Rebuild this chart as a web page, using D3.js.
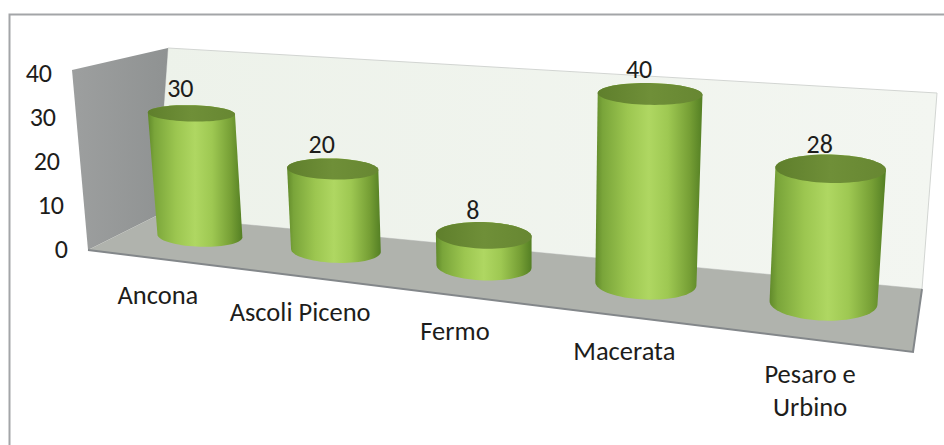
<!DOCTYPE html>
<html>
<head>
<meta charset="utf-8">
<script src="https://cdn.jsdelivr.net/npm/d3@7"></script>
<style>
  html, body { margin: 0; padding: 0; background: #fff; }
  text { font-family: Carlito, Lato, "Open Sans", sans-serif; fill: #1d1d1b; }
</style>
</head>
<body>
<div id="chart"></div>
<script>

const categories = ["Ancona", "Ascoli Piceno", "Fermo", "Macerata", "Pesaro e Urbino"]
const values = [30, 20, 8, 40, 28]
const ticks = [0, 10, 20, 30, 40]

const width = 944
const height = 445

// corners of the 3d box on screen: front-left, front-right, back-right, back-left
const floorCorners = [[88, 250], [913, 352], [922, 289], [156, 216]]
const topCorners = [[72, 70], [931, 137], [937, 93], [168, 48]]
// plane the cylinders stand in, the picture leans them differently from the walls
const barBase = [[136, 229], [919, 313]]
const barTop = [[122, 64], [933, 110]]

const x = d3.scaleBand().domain(categories).range([0, 1])
// slight pow because the picture squeezes the low values
const y = d3.scalePow().exponent(1.1).domain([0, 40]).range([0, 1])
// the axis labels themselves stay evenly spaced
const yTick = d3.scaleLinear().domain([0, 40]).range([0, 1])

function lerp(a, b, t) {
	return [a[0] + (b[0] - a[0]) * t, a[1] + (b[1] - a[1]) * t]
}

// perspective along the long axis
function warp(u) {
	return 0.8 * u / (1 - 0.2 * u)
}

function corner(i, v) {
	return lerp(floorCorners[i], topCorners[i], y(v))
}

function barPoint(u, v) {
	const t = warp(u)
	return lerp(lerp(barBase[0], barBase[1], t), lerp(barTop[0], barTop[1], t), y(v))
}

const svg = d3.select("#chart").append("svg")
	.attr("width", width)
	.attr("height", height)
	.style("display", "block")

const defs = svg.append("defs")

function gradient(id, stops) {
	const g = defs.append("linearGradient").attr("id", id)
		.attr("x1", 0).attr("y1", 0).attr("x2", 1).attr("y2", 0)
	stops.forEach(function(s) {
		g.append("stop").attr("offset", s[0]).attr("stop-color", s[1])
	})
}

gradient("body", [[0, "#618a2b"], [0.07, "#7aa53a"], [0.3, "#9cc650"], [0.5, "#afd762"], [0.68, "#9ec852"], [0.88, "#769f35"], [1, "#547f24"]])
gradient("cap", [[0, "#5f7f2c"], [0.5, "#6f8f38"], [1, "#678732"]])
gradient("wall", [[0, "#9d9f9f"], [1, "#8f9292"]])
gradient("back", [[0, "#edf2ea"], [1, "#f3f6f1"]])

const line = d3.line()

// frame, only top and left show in the picture
svg.append("path")
	.attr("d", line([[9.5, height], [9.5, 14.5], [width, 14.5]]))
	.attr("fill", "none")
	.attr("stroke", "#a3a5a8")
	.attr("stroke-width", 2)

// walls
svg.append("path")
	.attr("d", line([corner(3, 40), corner(2, 40), corner(2, 0), corner(3, 0)]) + "Z")
	.attr("fill", "url(#back)")
	.attr("stroke", "#d2d5d2")
	.attr("stroke-width", 1)

svg.append("path")
	.attr("d", line([corner(0, 40), corner(3, 40), corner(3, 0), corner(0, 0)]) + "Z")
	.attr("fill", "url(#wall)")

svg.append("path")
	.attr("d", line([corner(0, 0), corner(3, 0), corner(2, 0), corner(1, 0)]) + "Z")
	.attr("fill", "#b0b3ad")

svg.append("path")
	.attr("d", line([corner(0, 0), corner(1, 0), corner(2, 0)]))
	.attr("fill", "none")
	.attr("stroke", "#83878a")
	.attr("stroke-width", 2)

// cylinders
const radiusW = 0.3
const tilt = 0.3
const angles = d3.range(0, 2 * Math.PI, Math.PI / 36)

function ring(u, v) {
	const radiusU = 0.066 - 0.009 * u
	const c = barPoint(u, v)
	const a = barPoint(u - radiusU, v), b = barPoint(u + radiusU, v)
	const t = warp(u)
	const front = lerp(corner(0, v), corner(1, v), t)
	const back = lerp(corner(3, v), corner(2, v), t)
	const ry = radiusW * (front[1] - back[1])
	return angles.map(function(p) {
		return [c[0] + (b[0] - a[0]) / 2 * Math.cos(p),
			c[1] + tilt * (b[1] - a[1]) / 2 * Math.cos(p) + ry * Math.sin(p)]
	})
}

function center(d) {
	return x(d) + x.bandwidth() / 2
}

const bars = svg.append("g").selectAll("g")
	.data(categories)
	.enter().append("g")

bars.append("path")
	.attr("d", function(d, i) {
		return line(d3.polygonHull(ring(center(d), 0).concat(ring(center(d), values[i])))) + "Z"
	})
	.attr("fill", "url(#body)")

bars.append("path")
	.attr("d", function(d, i) { return line(ring(center(d), values[i])) + "Z" })
	.attr("fill", "url(#cap)")

// value labels
svg.append("g").selectAll("text")
	.data(categories)
	.enter().append("text")
	.attr("x", function(d, i) { return barPoint(center(d), values[i])[0] - 11 })
	.attr("y", function(d, i) { return barPoint(center(d), values[i])[1] - 16 })
	.attr("text-anchor", "middle")
	.attr("font-size", 26)
	.text(function(d, i) { return values[i] })

// value axis
function tickPoint(d) {
	return lerp(floorCorners[0], topCorners[0], yTick(d))
}

svg.append("g").selectAll("text")
	.data(ticks)
	.enter().append("text")
	.attr("x", function(d) { return tickPoint(d)[0] - 20 })
	.attr("y", function(d) { return tickPoint(d)[1] + 8 + d * 0.1 })
	.attr("text-anchor", "end")
	.attr("font-size", 26)
	.text(function(d) { return d })

// category labels follow the front edge, the last one wraps in two lines
const catLabels = svg.append("g").selectAll("text")
	.data(categories)
	.enter().append("text")
	.attr("text-anchor", "middle")
	.attr("font-size", 26.5)
	.attr("transform", function(d) {
		const t = warp(center(d))
		const p = lerp(corner(0, 0), corner(1, 0), t)
		return "translate(" + (p[0] + 3 - 6 * t) + "," + (p[1] + 46 - 3 * t) + ")"
	})

catLabels.each(function(d) {
	const parts = d === "Pesaro e Urbino" ? ["Pesaro e", "Urbino"] : [d]
	d3.select(this).selectAll("tspan")
		.data(parts)
		.enter().append("tspan")
		.attr("x", 0)
		.attr("dy", function(p, j) { return j ? 33 : 0 })
		.text(function(p) { return p })
})

</script>
</body>
</html>
